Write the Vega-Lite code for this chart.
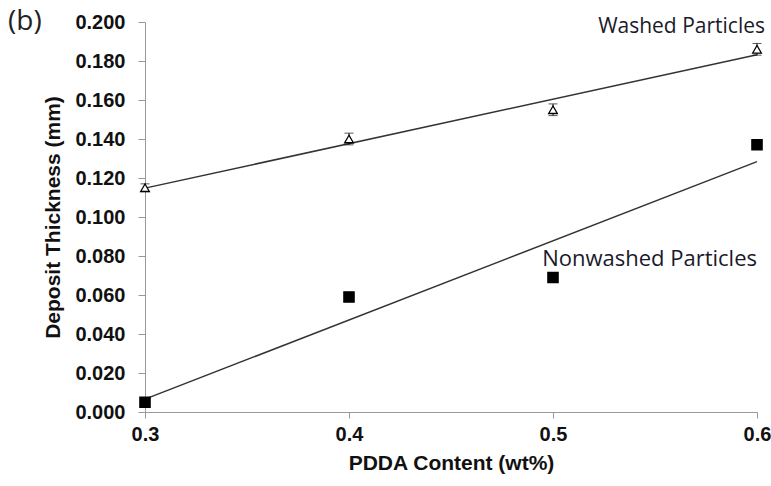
{
  "$schema": "https://vega.github.io/schema/vega-lite/v6.json",
  "width": 612,
  "height": 390,
  "autosize": {"type": "none"},
  "padding": {"left": 145, "top": 22, "right": 14, "bottom": 74},
  "background": "white",
  "title": {"text": "(b)", "anchor": "start", "frame": "group", "dx": -137, "dy": 28, "fontSize": 28, "fontWeight": "normal", "font": "Open Sans", "color": "#222222"},
  "config": {
    "view": {"stroke": null},
    "axis": {"grid": false, "labelOverlap": false, "labelFlush": false, "labelFont": "Liberation Sans", "labelFontSize": 20, "labelFontWeight": "bold", "labelColor": "#111111",
             "titleFont": "Liberation Sans", "titleFontSize": 21, "titleFontWeight": "bold", "titleColor": "#111111",
             "domainColor": "#999999", "tickColor": "#999999"},
    "axisX": {"tickSize": 6, "labelPadding": 6, "titlePadding": 8},
    "axisY": {"tickSize": 7, "labelPadding": 13, "titlePadding": 11}
  },
  "datasets": {
    "pts": [
      {"content": 0.3, "thickness": 0.115, "err": 0.002, "series": "Washed"},
      {"content": 0.4, "thickness": 0.140, "err": 0.003, "series": "Washed"},
      {"content": 0.5, "thickness": 0.155, "err": 0.003, "series": "Washed"},
      {"content": 0.6, "thickness": 0.186, "err": 0.003, "series": "Washed"},
      {"content": 0.3, "thickness": 0.005, "err": 0.001, "series": "Nonwashed"},
      {"content": 0.4, "thickness": 0.059, "err": 0.002, "series": "Nonwashed"},
      {"content": 0.5, "thickness": 0.069, "err": 0.001, "series": "Nonwashed"},
      {"content": 0.6, "thickness": 0.137, "err": 0.002, "series": "Nonwashed"}
    ],
    "labels": [
      {"content": 0.6, "thickness": 0.1944, "label": "Washed Particles"},
      {"content": 0.6, "thickness": 0.0749, "label": "Nonwashed Particles"}
    ]
  },
  "layer": [
    {
      "data": {"name": "pts"},
      "transform": [{"regression": "thickness", "on": "content", "groupby": ["series"], "extent": [0.3, 0.6]}],
      "mark": {"type": "line", "color": "#333333", "strokeWidth": 1.5},
      "encoding": {
        "x": {"field": "content", "type": "quantitative", "scale": {"domain": [0.3, 0.6], "nice": false},
              "axis": {"values": [0.3, 0.4, 0.5, 0.6], "tickCount": 20, "format": ".1f", "title": "PDDA Content (wt%)"}},
        "y": {"field": "thickness", "type": "quantitative", "scale": {"domain": [0, 0.2], "nice": false},
              "axis": {"values": [0, 0.02, 0.04, 0.06, 0.08, 0.1, 0.12, 0.14, 0.16, 0.18, 0.2], "tickCount": 20, "format": ".3f", "title": "Deposit Thickness (mm)"}},
        "detail": {"field": "series"}
      }
    },
    {
      "data": {"name": "pts"},
      "transform": [{"filter": "datum.series === 'Washed'"}, {"calculate": "datum.thickness - datum.err", "as": "lo"}, {"calculate": "datum.thickness + datum.err", "as": "hi"}],
      "mark": {"type": "errorbar", "ticks": {"size": 9, "color": "#111111"}, "rule": {"color": "#111111"}},
      "encoding": {
        "x": {"field": "content", "type": "quantitative", "axis": {"values": [0.3, 0.4, 0.5, 0.6], "tickCount": 20, "format": ".1f", "title": "PDDA Content (wt%)"}},
        "y": {"field": "lo", "type": "quantitative",
              "axis": {"values": [0, 0.02, 0.04, 0.06, 0.08, 0.1, 0.12, 0.14, 0.16, 0.18, 0.2], "tickCount": 20, "format": ".3f", "title": "Deposit Thickness (mm)"}},
        "y2": {"field": "hi"}
      }
    },
    {
      "data": {"name": "pts"},
      "mark": {"type": "point", "filled": false, "opacity": 1, "strokeWidth": 1.3},
      "encoding": {
        "x": {"field": "content", "type": "quantitative", "axis": {"values": [0.3, 0.4, 0.5, 0.6], "tickCount": 20, "format": ".1f", "title": "PDDA Content (wt%)"}},
        "y": {"field": "thickness", "type": "quantitative",
              "axis": {"values": [0, 0.02, 0.04, 0.06, 0.08, 0.1, 0.12, 0.14, 0.16, 0.18, 0.2], "tickCount": 20, "format": ".3f", "title": "Deposit Thickness (mm)"}},
        "shape": {"field": "series", "type": "nominal", "scale": {"domain": ["Washed", "Nonwashed"], "range": ["triangle-up", "square"]}, "legend": null},
        "fill": {"field": "series", "type": "nominal", "scale": {"domain": ["Washed", "Nonwashed"], "range": ["white", "black"]}, "legend": null},
        "stroke": {"value": "black"},
        "size": {"field": "series", "type": "nominal", "scale": {"domain": ["Washed", "Nonwashed"], "range": [75, 105]}, "legend": null}
      }
    },
    {
      "data": {"name": "labels"},
      "transform": [{"filter": "datum.label === 'Washed Particles'"}],
      "mark": {"type": "text", "align": "right", "baseline": "alphabetic", "dx": 8, "font": "Open Sans", "fontSize": 21, "color": "#1a1a2a"},
      "encoding": {
        "x": {"field": "content", "type": "quantitative"},
        "y": {"field": "thickness", "type": "quantitative"},
        "text": {"field": "label"}
      }
    },
    {
      "data": {"name": "labels"},
      "transform": [{"filter": "datum.label === 'Nonwashed Particles'"}],
      "mark": {"type": "text", "align": "right", "baseline": "alphabetic", "dx": 0, "font": "Open Sans", "fontSize": 22, "color": "#1a1a2a"},
      "encoding": {
        "x": {"field": "content", "type": "quantitative"},
        "y": {"field": "thickness", "type": "quantitative"},
        "text": {"field": "label"}
      }
    }
  ]
}
